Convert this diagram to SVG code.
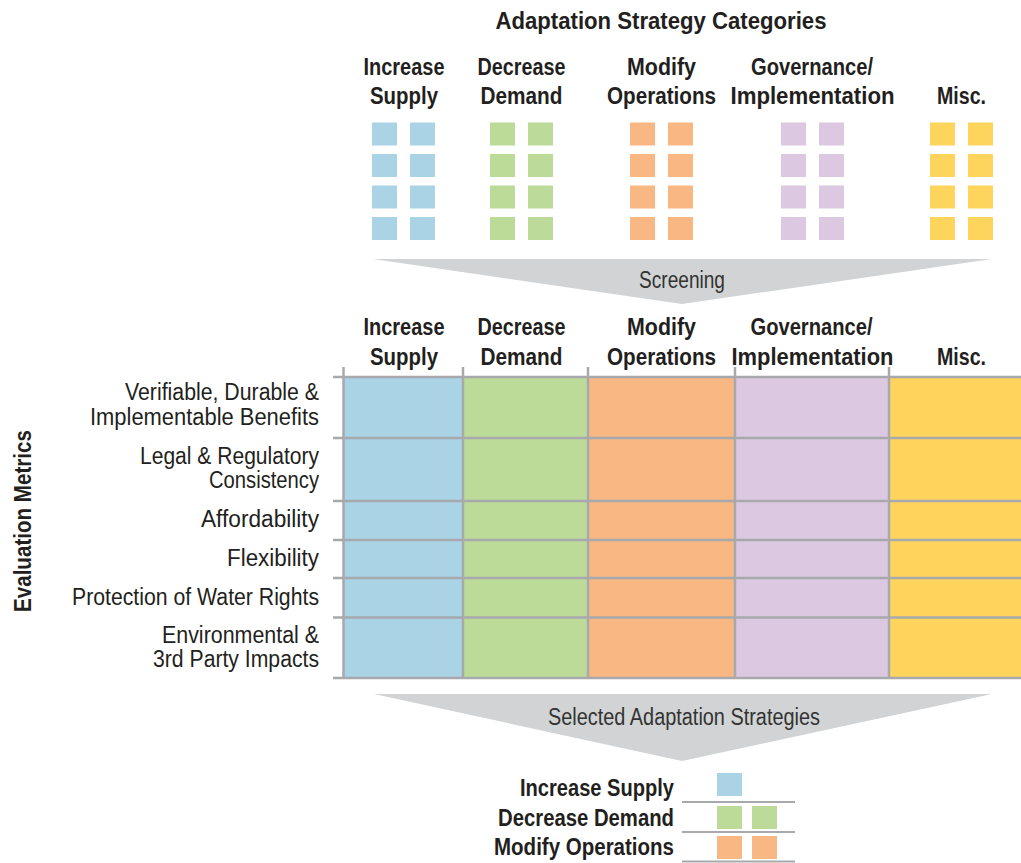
<svg xmlns="http://www.w3.org/2000/svg" width="1021" height="863" viewBox="0 0 1021 863">
<style>
text{font-family:"Liberation Sans",Arial,sans-serif;font-size:23px;fill:#231f20}
.b{font-weight:bold}
.m{text-anchor:middle}
.e{text-anchor:end}
.sb{fill:#aad3e6}.sg{fill:#bcdb98}.so{fill:#f9b783}.sp{fill:#dcc8e0}.sy{fill:#fed45c}
.grid{stroke:#a7a9ac;stroke-width:2.5;fill:none}
.arrow{fill:#d1d3d4}
.lg{stroke:#a7a9ac;stroke-width:2;fill:none}
</style>
<defs>
<g id="pair"><rect x="0" y="0" width="25" height="23"/><rect x="38" y="0" width="25" height="23"/></g>
<g id="stack"><use href="#pair" y="122.5"/><use href="#pair" y="154"/><use href="#pair" y="185.5"/><use href="#pair" y="217"/></g>
</defs>
<rect width="1021" height="863" fill="#fff"/>

<g id="title"><text class="b m" x="661" y="29" textLength="331" lengthAdjust="spacingAndGlyphs">Adaptation Strategy Categories</text></g>

<g id="categories-top">
<g id="cat-increase"><text class="b m" x="404" y="75" textLength="81" lengthAdjust="spacingAndGlyphs">Increase</text><text class="b m" x="404" y="104" textLength="68" lengthAdjust="spacingAndGlyphs">Supply</text><use href="#stack" x="372" class="sb"/></g>
<g id="cat-decrease"><text class="b m" x="521.5" y="75" textLength="88" lengthAdjust="spacingAndGlyphs">Decrease</text><text class="b m" x="521.5" y="104" textLength="82" lengthAdjust="spacingAndGlyphs">Demand</text><use href="#stack" x="490" class="sg"/></g>
<g id="cat-modify"><text class="b m" x="661.5" y="75" textLength="69" lengthAdjust="spacingAndGlyphs">Modify</text><text class="b m" x="661.5" y="104" textLength="109" lengthAdjust="spacingAndGlyphs">Operations</text><use href="#stack" x="630" class="so"/></g>
<g id="cat-governance"><text class="b m" x="812" y="75" textLength="122" lengthAdjust="spacingAndGlyphs">Governance/</text><text class="b m" x="812.5" y="104" textLength="164" lengthAdjust="spacingAndGlyphs">Implementation</text><use href="#stack" x="781" class="sp"/></g>
<g id="cat-misc"><text class="b m" x="961.5" y="104" textLength="49" lengthAdjust="spacingAndGlyphs">Misc.</text><use href="#stack" x="930" class="sy"/></g>
</g>

<g id="connectors">
<g id="screening"><polygon class="arrow" points="373,259 992,259 682,304"/><text class="m" x="682" y="288" textLength="86" lengthAdjust="spacingAndGlyphs" style="fill:#333">Screening</text></g>
<g id="selected"><polygon class="arrow" points="374,694 992,694 682,761"/><text class="m" x="684" y="725" textLength="272" lengthAdjust="spacingAndGlyphs" style="fill:#333">Selected Adaptation Strategies</text></g>
</g>

<g id="matrix-headers">
<text class="b m" x="404" y="335" textLength="81" lengthAdjust="spacingAndGlyphs">Increase</text><text class="b m" x="404" y="365" textLength="68" lengthAdjust="spacingAndGlyphs">Supply</text>
<text class="b m" x="521.5" y="335" textLength="88" lengthAdjust="spacingAndGlyphs">Decrease</text><text class="b m" x="521.5" y="365" textLength="82" lengthAdjust="spacingAndGlyphs">Demand</text>
<text class="b m" x="661.5" y="335" textLength="69" lengthAdjust="spacingAndGlyphs">Modify</text><text class="b m" x="661.5" y="365" textLength="109" lengthAdjust="spacingAndGlyphs">Operations</text>
<text class="b m" x="811.5" y="335" textLength="122" lengthAdjust="spacingAndGlyphs">Governance/</text><text class="b m" x="812.5" y="365" textLength="162" lengthAdjust="spacingAndGlyphs">Implementation</text>
<text class="b m" x="961.5" y="365" textLength="49" lengthAdjust="spacingAndGlyphs">Misc.</text>
</g>

<g id="matrix">
<rect class="sb" x="343" y="377" width="120" height="301"/>
<rect class="sg" x="463" y="377" width="125" height="301"/>
<rect class="so" x="588" y="377" width="147" height="301"/>
<rect class="sp" x="735" y="377" width="154" height="301"/>
<rect class="sy" x="889" y="377" width="132" height="301"/>
<path class="grid" d="M333 377H1021M333 438H1021M333 501H1021M333 540H1021M333 578H1021M333 617.5H1021M333 678H1021M343.5 367V678M463 367V678M588 367V678M735 367V678M889 367V678"/>
</g>

<g id="metrics">
<text class="b m" transform="translate(31,521) rotate(-90)" textLength="182" lengthAdjust="spacingAndGlyphs">Evaluation Metrics</text>
<text class="e" x="319" y="400" textLength="194" lengthAdjust="spacingAndGlyphs">Verifiable, Durable &amp;</text>
<text class="e" x="319" y="425" textLength="229" lengthAdjust="spacingAndGlyphs">Implementable Benefits</text>
<text class="e" x="319" y="464" textLength="179" lengthAdjust="spacingAndGlyphs">Legal &amp; Regulatory</text>
<text class="e" x="319" y="488" textLength="110" lengthAdjust="spacingAndGlyphs">Consistency</text>
<text class="e" x="319" y="527" textLength="118" lengthAdjust="spacingAndGlyphs">Affordability</text>
<text class="e" x="319" y="566" textLength="92" lengthAdjust="spacingAndGlyphs">Flexibility</text>
<text class="e" x="319" y="605" textLength="247" lengthAdjust="spacingAndGlyphs">Protection of Water Rights</text>
<text class="e" x="319" y="643" textLength="157" lengthAdjust="spacingAndGlyphs">Environmental &amp;</text>
<text class="e" x="319" y="667" textLength="166" lengthAdjust="spacingAndGlyphs">3rd Party Impacts</text>
</g>

<g id="selected-list">
<g id="sel-increase"><text class="b e" x="674" y="796" textLength="154" lengthAdjust="spacingAndGlyphs">Increase Supply</text><rect class="sb" x="717" y="773" width="25" height="23"/><line class="lg" x1="682" y1="802" x2="795" y2="802"/></g>
<g id="sel-decrease"><text class="b e" x="674" y="826" textLength="176" lengthAdjust="spacingAndGlyphs">Decrease Demand</text><rect class="sg" x="717" y="806" width="25" height="23"/><rect class="sg" x="752" y="806" width="25" height="23"/><line class="lg" x1="682" y1="832" x2="795" y2="832"/></g>
<g id="sel-modify"><text class="b e" x="674" y="855" textLength="180" lengthAdjust="spacingAndGlyphs">Modify Operations</text><rect class="so" x="717" y="836" width="25" height="23"/><rect class="so" x="752" y="836" width="25" height="23"/><line class="lg" x1="682" y1="861.5" x2="795" y2="861.5"/></g>
</g>
</svg>
